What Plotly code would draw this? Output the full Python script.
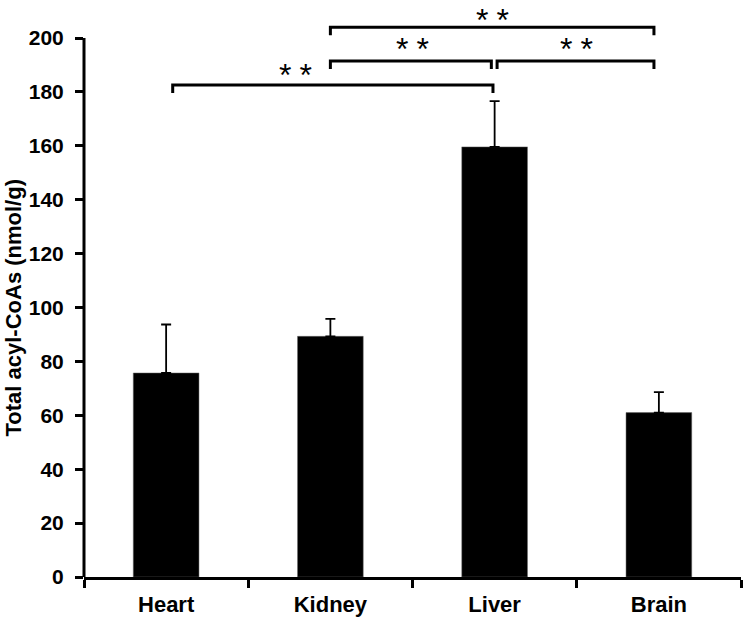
import plotly.graph_objects as go

categories = ["Heart", "Kidney", "Liver", "Brain"]
means = [75.7, 89.3, 159.6, 61.0]
errors = [18.0, 6.5, 17.0, 7.6]
y_ticks = [0, 20, 40, 60, 80, 100, 120, 140, 160, 180, 200]
y_title = "Total acyl-CoAs (nmol/g)"

# significance brackets
bracket_x0 = [0.04, 1.0, 2.015, 1.0]
bracket_x1 = [1.99, 1.98, 2.97, 2.97]
bracket_h = [182.6, 191.5, 191.5, 204.0]
label_x = [0.786, 1.498, 2.497, 1.99]
label_y = [188.0, 197.6, 197.6, 208.6]
labels = ["**", "**", "**", "**"]

W, H = 745, 617
mt, mb, ml, mr = 0, 40, 84, 4
plot_h = H - mt - mb
px_per_unit = 2.695
y_top = plot_h / px_per_unit

fig = go.Figure()
fig.add_trace(go.Bar(
    x=categories, y=means,
    marker=dict(color="black", line=dict(color="#666", width=0.5)),
    width=0.4,
    error_y=dict(type="data", symmetric=False, array=errors,
                 arrayminus=[0]*len(errors), color="black",
                 thickness=1.8, width=5),
))

# y axis line only from 0 to 200
fig.add_shape(type="line", xref="paper", yref="y", x0=0, x1=0,
              y0=0, y1=y_ticks[-1], line=dict(color="black", width=3))

drop = 3.0
for xa, xb, h in zip(bracket_x0, bracket_x1, bracket_h):
    fig.add_shape(type="path",
                  path=f"M {xa},{h - drop} L {xa},{h} L {xb},{h} L {xb},{h - drop}",
                  xref="x", yref="y",
                  line=dict(color="black", width=3))
for lx, ly, lab in zip(label_x, label_y, labels):
    fig.add_annotation(x=lx, y=ly, xref="x", yref="y",
                       text=lab.replace("**", "*\u2005*"),
                       showarrow=False, yanchor="middle", yshift=-5,
                       font=dict(family="Liberation Sans", size=32, color="black"))

# y-axis title centred on the 0-200 axis line
fig.add_annotation(x=0, xref="paper", y=y_ticks[-1] / 2, yref="y",
                   text=y_title, textangle=-90, showarrow=False,
                   xanchor="center", yanchor="middle", xshift=-71,
                   font=dict(family="Liberation Sans", size=22,
                             color="black", weight="bold"))

fig.update_layout(
    width=W, height=H,
    margin=dict(l=ml, r=mr, t=mt, b=mb),
    paper_bgcolor="white", plot_bgcolor="white",
    showlegend=False,
    xaxis=dict(type="category", range=[-0.5, 3.5], showline=True,
               linecolor="black", linewidth=3, ticks="outside",
               tickson="boundaries", ticklen=8, tickwidth=2.5,
               tickcolor="black", showgrid=False, ticklabelstandoff=6,
               tickfont=dict(family="Liberation Sans", size=22,
                             color="black", weight="bold")),
    yaxis=dict(range=[0, y_top], tickvals=y_ticks, showline=False,
               ticks="outside", ticklen=8, tickwidth=2.5,
               tickcolor="black", showgrid=False, zeroline=False,
               ticklabelstandoff=7,
               tickfont=dict(family="Liberation Sans", size=21,
                             color="black", weight="bold")),
)

fig.write_html("out.html", config={"displayModeBar": False},
               post_script="document.body.style.margin='0';")
